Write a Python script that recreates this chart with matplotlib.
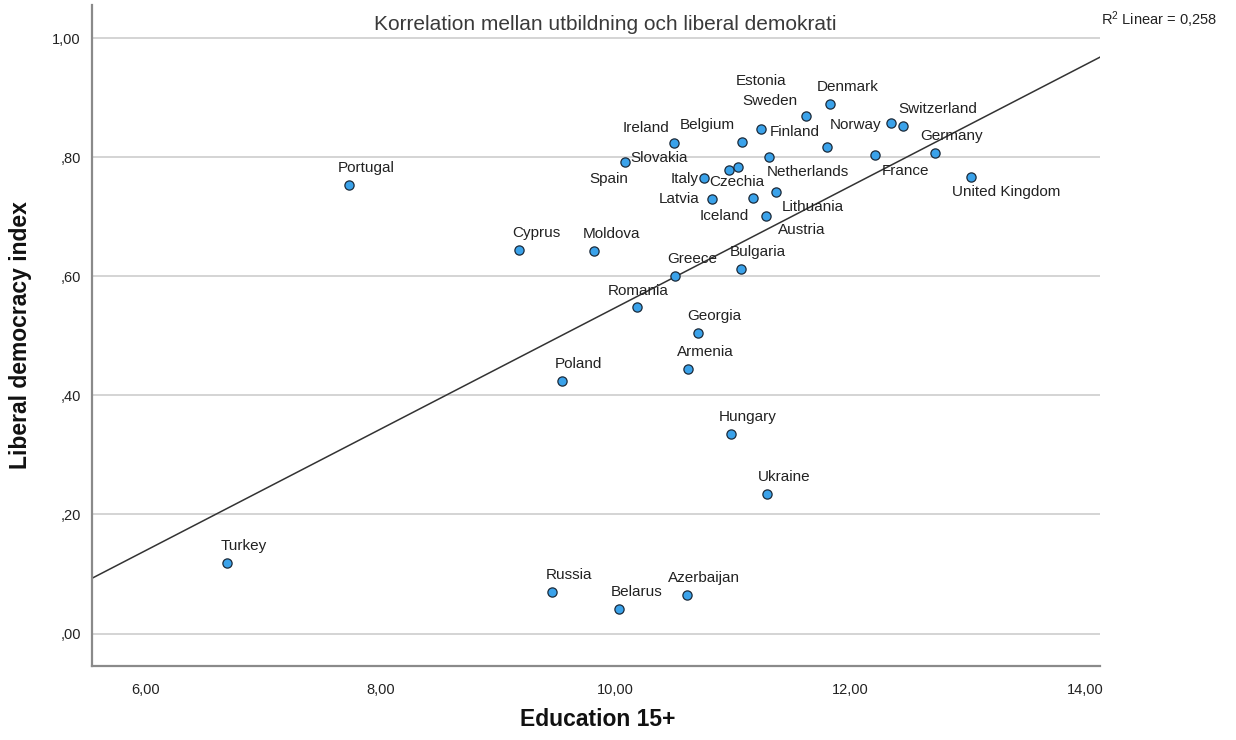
import matplotlib
matplotlib.use("Agg")
import matplotlib.pyplot as plt
import numpy as np
from matplotlib.ticker import FuncFormatter, MultipleLocator

plt.rcParams["font.family"] = ["Liberation Sans", "DejaVu Sans"]
plt.rcParams["mathtext.fontset"] = "custom"
plt.rcParams["mathtext.rm"] = "Liberation Sans"
plt.rcParams["mathtext.it"] = "Liberation Sans:italic"

TEXT_COLOR = "#222222"
GRID_COLOR = "#d4d4d4"
SPINE_COLOR = "#8a8a8a"
POINT_COLOR = "#3aa2ea"

# --- datos ---
countries = [
    "Turkey", "Portugal", "Cyprus", "Moldova", "Slovakia", "Spain", "Ireland",
    "Belgium", "Finland", "Sweden", "Denmark", "Estonia", "Netherlands",
    "Norway", "Switzerland", "France", "Germany", "United Kingdom", "Czechia",
    "Italy", "Latvia", "Iceland", "Lithuania", "Austria", "Greece", "Bulgaria",
    "Romania", "Georgia", "Armenia", "Poland", "Hungary", "Ukraine", "Russia",
    "Belarus", "Azerbaijan",
]
education = [
    6.69, 7.73, 9.18, 9.82, 10.08, 10.97, 10.50,
    11.08, 11.24, 11.62, 11.83, 11.80, 11.31,
    12.35, 12.45, 12.21, 12.72, 13.03, 11.04,
    10.75, 10.82, 11.17, 11.37, 11.28, 10.51, 11.07,
    10.18, 10.70, 10.62, 9.54, 10.98, 11.29, 9.46,
    10.03, 10.61,
]
ldi = [
    0.118, 0.753, 0.645, 0.642, 0.792, 0.779, 0.824,
    0.826, 0.847, 0.870, 0.889, 0.817, 0.800,
    0.857, 0.852, 0.804, 0.807, 0.767, 0.784,
    0.766, 0.730, 0.732, 0.742, 0.701, 0.600, 0.613,
    0.548, 0.505, 0.445, 0.425, 0.336, 0.234, 0.070,
    0.041, 0.064,
]
r2_text = "0,258"

# posicion del centro de cada etiqueta respecto al punto (pixeles)
DEFAULT_OFFSET = (17, -17)
label_offsets = {
    "Slovakia": (34, -4), "Spain": (-121, 9), "Ireland": (-28, -15),
    "Belgium": (-35, -17), "Finland": (34, 3), "Sweden": (-36, -15),
    "Estonia": (-66, -66), "Netherlands": (38, 15), "Norway": (-36, 2),
    "Switzerland": (35, -17), "France": (30, 16), "United Kingdom": (35, 15),
    "Czechia": (-1, 15), "Italy": (-19, 1), "Latvia": (-33, 0),
    "Iceland": (-29, 18), "Lithuania": (36, 15), "Austria": (36, 14),
    "Romania": (1, -16),
}


def spss_fmt(value, _pos):
    """Formato tipo SPSS: coma decimal y sin el cero inicial."""
    s = f"{value:.2f}".replace(".", ",")
    if s.startswith("0,"):
        s = s[1:]
    return s


fig = plt.figure(figsize=(12.36, 7.40), dpi=100)
ax = fig.add_axes([92 / 1236, 1 - 666 / 740, (1100 - 92) / 1236, (666 - 5) / 740])

ax.set_xlim(5.54, 14.126)
ax.set_ylim(-0.0546, 1.056)
ax.xaxis.set_major_locator(MultipleLocator(2))
ax.yaxis.set_major_locator(MultipleLocator(0.2))
ax.xaxis.set_major_formatter(FuncFormatter(spss_fmt))
ax.yaxis.set_major_formatter(FuncFormatter(spss_fmt))

ax.grid(axis="y", color=GRID_COLOR, linewidth=1.4, zorder=0)
ax.set_axisbelow(True)
for side in ("top", "right"):
    ax.spines[side].set_visible(False)
for side in ("left", "bottom"):
    ax.spines[side].set_color(SPINE_COLOR)
    ax.spines[side].set_linewidth(1.6)
ax.tick_params(axis="both", length=0, labelsize=10.5, colors=TEXT_COLOR)
ax.tick_params(axis="x", pad=12)
ax.tick_params(axis="y", pad=8)

# recta de regresion
slope, intercept = np.polyfit(education, ldi, 1)
xs = np.array(ax.get_xlim())
ax.plot(xs, intercept + slope * xs, color="#333333", linewidth=1.1, zorder=2)

ax.scatter(education, ldi, s=44, color=POINT_COLOR, edgecolor="#1b2a3a",
           linewidth=0.9, zorder=3)

for name, x, y in zip(countries, education, ldi):
    dx, dy = label_offsets.get(name, DEFAULT_OFFSET)
    ax.annotate(name, (x, y), xytext=(dx, -dy), textcoords="offset pixels",
                ha="center", va="center", fontsize=11, color=TEXT_COLOR,
                zorder=4)

fig.text(605 / 1236, 1 - 25 / 740, "Korrelation mellan utbildning och liberal demokrati",
         ha="center", va="center", fontsize=15, color="#3a3a3a")
fig.text(1101 / 1236, 1 - 20 / 740, r"R$^2$ Linear = " + r2_text,
         ha="left", va="center", fontsize=10.5, color=TEXT_COLOR)
fig.text(21 / 1236, 1 - 335 / 740, "Liberal democracy index", rotation=90,
         ha="center", va="center", fontsize=16.5, fontweight="bold", color="#111111")
fig.text(598 / 1236, 1 - 720 / 740, "Education 15+",
         ha="center", va="center", fontsize=16.5, fontweight="bold", color="#111111")

fig.savefig("out.png", dpi=100)
